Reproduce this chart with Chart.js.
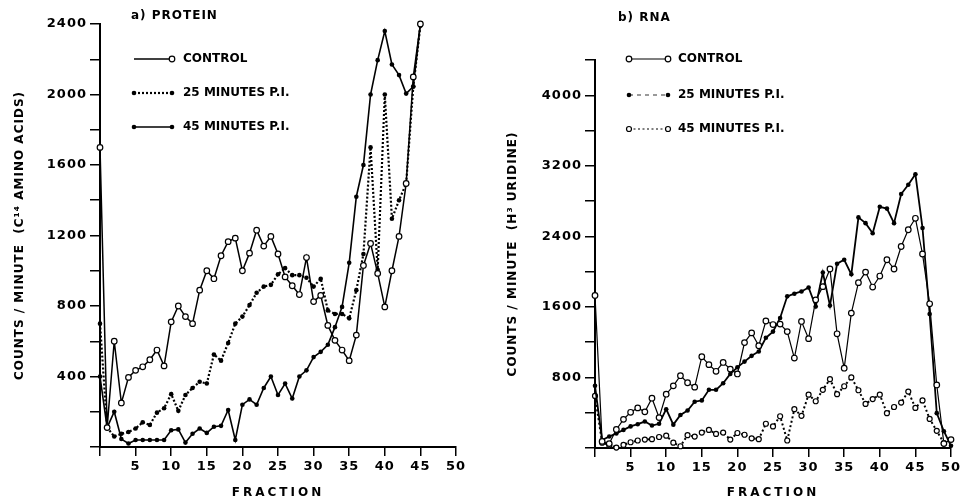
<!DOCTYPE html>
<html>
<head>
<meta charset="utf-8">
<script src="https://cdn.jsdelivr.net/npm/chart.js@4.4.0/dist/chart.umd.min.js"></script>
<style>
html, body { margin: 0; padding: 0; background: #fff; }
#wrap { position: relative; width: 965px; height: 503px; }
#wrap canvas { position: absolute; top: 0; }
#proteinChart { left: 0; }
#rnaChart { left: 483px; }
</style>
</head>
<body>
<div id="wrap">
  <canvas id="proteinChart" width="483" height="503"></canvas>
  <canvas id="rnaChart" width="482" height="503"></canvas>
</div>
<script>
// values, index = fraction number
const proteinControl = [1700,110,600,250,395,435,455,495,550,460,710,800,740,700,890,1000,955,1085,1165,1185,1000,1100,1230,1140,1195,1095,965,915,865,1075,825,860,690,605,550,490,635,1030,1155,985,795,1000,1195,1495,2100,2400];
const protein25 = [700,110,60,75,85,105,140,125,195,220,300,205,295,335,370,360,525,490,590,700,740,805,875,910,920,980,1015,975,975,960,910,955,775,755,755,730,890,1095,1700,1005,2000,1295,1400,1495,2045,2390];
const protein45 = [400,110,200,45,20,40,40,40,40,40,95,100,25,75,105,80,115,120,210,40,240,270,240,335,400,295,360,275,400,435,510,540,580,680,795,1045,1420,1600,2000,2195,2360,2170,2110,2005,2045,2400];

const rnaControl = [1730,75,50,210,325,405,455,410,565,345,610,705,820,740,690,1035,945,870,970,895,840,1195,1305,1160,1440,1400,1405,1320,1020,1435,1240,1680,1830,2030,1295,905,1530,1875,1995,1825,1950,2135,2030,2285,2475,2605,2200,1635,715,50,95];
const rna25 = [705,90,130,165,205,245,270,300,255,275,440,265,375,425,525,540,660,660,735,840,915,980,1045,1095,1250,1320,1475,1720,1750,1775,1820,1605,1990,1615,2090,2135,1970,2615,2550,2435,2735,2715,2550,2880,2985,3105,2495,1520,395,190,25];
const rna45 = [590,60,30,5,35,65,85,95,100,125,140,60,20,145,130,175,205,160,175,95,170,150,110,100,275,245,360,85,440,365,605,530,660,780,610,700,800,655,500,555,605,395,465,515,640,455,540,330,195,55];

// tick labels
const proteinYLabels = [400, 800, 1200, 1600, 2000, 2400];
const rnaYLabels = [800, 1600, 2400, 3200, 4000];
const fractionLabels = [5, 10, 15, 20, 25, 30, 35, 40, 45, 50];

const seriesLabels = ['CONTROL', '25 MINUTES P.I.', '45 MINUTES P.I.'];

const FONT = 'DejaVu Sans';

function pts(arr) {
    return arr.map((v, i) => ({ x: i, y: v }));
}

function line(label, data, opts) {
    return {
        label: label,
        data: pts(data),
        borderColor: '#000',
        borderWidth: opts.width,
        borderDash: opts.dash || [],
        pointRadius: opts.radius,
        pointBorderWidth: opts.open ? 1.2 : 0,
        pointBorderColor: '#000',
        pointBackgroundColor: opts.open ? '#fff' : '#000',
        tension: 0,
        clip: false,
        legendDash: opts.legendDash || opts.dash || [],
        legendWidth: opts.legendWidth || opts.width,
        legendEnds: opts.ends
    };
}

function makeScales(yMax, yStep, yLabels, yTitle, yWidth, xHeight, titlePad) {
    return {
        x: {
            type: 'linear', min: 0, max: 50,
            afterFit: s => { s.height = xHeight; },
            border: { color: '#000', width: 2 },
            grid: { drawOnChartArea: false, drawTicks: true, tickLength: 9, color: '#000', lineWidth: 1.5 },
            ticks: {
                stepSize: 5, autoSkip: false, maxRotation: 0, padding: 3, color: '#000',
                font: { family: FONT, size: 13, weight: 'bold' },
                callback: v => fractionLabels.includes(v) ? String(v) : ''
            },
            title: { display: true, text: 'FRACTION', color: '#000', padding: { top: 0, bottom: 3 },
                     font: { family: FONT, size: 12, weight: 'bold' } }
        },
        y: {
            min: 0, max: yMax,
            afterFit: s => { s.width = yWidth; },
            border: { color: '#000', width: 2 },
            grid: { drawOnChartArea: false, drawTicks: true, tickLength: 10, color: '#000', lineWidth: 1.5 },
            ticks: {
                stepSize: yStep, autoSkip: false, padding: 3, color: '#000',
                font: { family: FONT, size: 13, weight: 'bold' },
                callback: v => yLabels.includes(v) ? String(v) : ''
            },
            title: { display: true, text: yTitle, color: '#000', padding: { top: titlePad, bottom: 0 },
                     font: { family: FONT, size: 12, weight: 'bold' } }
        }
    };
}

// panel label, legend inside the plot, letter spacing of the old lettering
const panelDecor = {
    id: 'panelDecor',
    afterUpdate(chart) {
        const sx = chart.scales.x;
        if (!sx._spaced) {
            const orig = sx.drawTitle;
            sx.drawTitle = function (...a) {
                const c = this.ctx;
                const prev = c.letterSpacing;
                c.letterSpacing = '3px';
                orig.apply(this, a);
                c.letterSpacing = prev;
            };
            sx._spaced = true;
        }
    },
    beforeDraw(chart) {
        chart.ctx.letterSpacing = '1px';
    },
    afterDraw(chart, args, o) {
        const ctx = chart.ctx;
        ctx.save();
        ctx.fillStyle = '#000';
        ctx.strokeStyle = '#000';
        ctx.textBaseline = 'middle';
        ctx.textAlign = 'left';
        ctx.font = 'bold 12px "' + FONT + '"';
        ctx.letterSpacing = '1px';
        ctx.fillText(o.title, o.titleX, o.titleY);
        ctx.letterSpacing = '0px';
        chart.data.datasets.forEach((ds, i) => {
            const y = o.legendY[i];
            ctx.lineWidth = ds.legendWidth;
            ctx.setLineDash(ds.legendDash);
            ctx.beginPath();
            ctx.moveTo(o.x1, y);
            ctx.lineTo(o.x2, y);
            ctx.stroke();
            ctx.setLineDash([]);
            [o.x1, o.x2].forEach((x, k) => {
                if (!ds.legendEnds[k]) return;
                ctx.beginPath();
                ctx.arc(x, y, ds.pointRadius, 0, Math.PI * 2);
                ctx.fillStyle = ds.pointBackgroundColor;
                ctx.fill();
                if (ds.pointBorderWidth) {
                    ctx.lineWidth = ds.pointBorderWidth;
                    ctx.stroke();
                }
            });
            ctx.fillStyle = '#000';
            ctx.fillText(ds.label, o.textX, y);
        });
        ctx.restore();
    }
};

new Chart(document.getElementById('proteinChart'), {
    type: 'line',
    data: {
        datasets: [
            line(seriesLabels[0], proteinControl, { width: 1.5, radius: 2.8, open: true, ends: [false, true] }),
            line(seriesLabels[1], protein25, { width: 2.2, dash: [2, 2], radius: 2.3, ends: [true, true] }),
            line(seriesLabels[2], protein45, { width: 1.6, radius: 2.3, ends: [true, true] })
        ]
    },
    options: {
        responsive: false,
        animation: false,
        layout: { padding: { top: 24, right: 27, left: 0, bottom: 0 } },
        scales: makeScales(2400, 200, proteinYLabels, 'COUNTS / MINUTE  (C\u00B9\u2074 AMINO ACIDS)', 100, 56, 13),
        plugins: {
            legend: { display: false },
            tooltip: { enabled: false },
            panelDecor: { title: 'a) PROTEIN', titleX: 131, titleY: 16, x1: 134, x2: 172, textX: 183, legendY: [59, 93, 127] }
        }
    },
    plugins: [panelDecor]
});

new Chart(document.getElementById('rnaChart'), {
    type: 'line',
    data: {
        datasets: [
            line(seriesLabels[0], rnaControl, { width: 1.2, radius: 2.8, open: true, ends: [true, true] }),
            line(seriesLabels[1], rna25, { width: 1.8, radius: 2.3, legendDash: [4, 4], legendWidth: 0.8, ends: [true, true] }),
            line(seriesLabels[2], rna45, { width: 2, dash: [2, 2.5], radius: 2.5, open: true, legendWidth: 1.2, ends: [true, true] })
        ]
    },
    options: {
        responsive: false,
        animation: false,
        layout: { padding: { top: 60, right: 14, left: 0, bottom: 0 } },
        scales: makeScales(4400, 400, rnaYLabels, 'COUNTS / MINUTE  (H\u00B3 URIDINE)', 112, 55, 23),
        plugins: {
            legend: { display: false },
            tooltip: { enabled: false },
            panelDecor: { title: 'b) RNA', titleX: 135, titleY: 18, x1: 146, x2: 185, textX: 195, legendY: [59, 95, 129] }
        }
    },
    plugins: [panelDecor]
});
</script>
</body>
</html>
